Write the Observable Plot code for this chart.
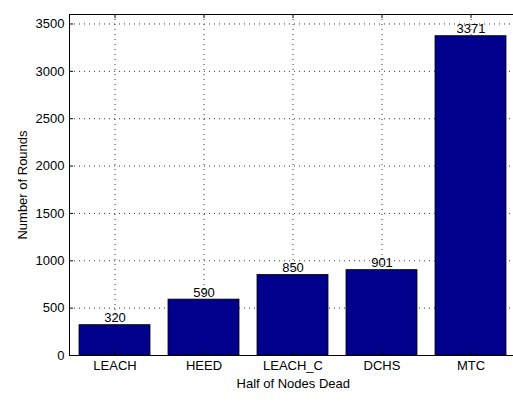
<!DOCTYPE html>
<html>
<head>
<meta charset="utf-8">
<script src="https://cdn.jsdelivr.net/npm/d3@7"></script>
<script src="https://cdn.jsdelivr.net/npm/@observablehq/plot@0.6"></script>
<style>
  html, body { margin: 0; padding: 0; background: #fff; }
  #chart { width: 513px; height: 405px; overflow: hidden; }
</style>
</head>
<body>
<div id="chart"></div>
<script>
// Rounds until half of the nodes are dead, per protocol
const protocols = ["LEACH", "HEED", "LEACH_C", "DCHS", "MTC"];
const rounds = [320, 590, 850, 901, 3371];
const yTicks = [0, 500, 1000, 1500, 2000, 2500, 3000, 3500];
const xTitle = "Half of Nodes Dead";
const yTitle = "Number of Rounds";

const data = protocols.map((p, i) => ({protocol: p, rounds: rounds[i]}));

const W = 513, H = 405;
const mL = 69, mR = -3.5, mT = 14, mB = 50;
const innerW = W - mL - mR;
const innerH = H - mT - mB;
const font = "'Liberation Sans', Arial, Helvetica, sans-serif";
const dotted = {stroke: "#000", strokeOpacity: 0.8, strokeDasharray: "1,4"};

const chart = Plot.plot({
  width: W,
  height: H,
  marginLeft: mL,
  marginRight: mR,
  marginTop: mT,
  marginBottom: mB,
  style: {fontFamily: font, fontSize: "13px", background: "#fff", color: "#000", overflow: "hidden"},
  x: {domain: protocols, paddingInner: 0.2, paddingOuter: 0.1, align: 0.5},
  y: {domain: [0, 3600]},
  marks: [
    Plot.gridY(yTicks.slice(1), dotted),
    Plot.ruleX(protocols, {x: d => d, ...dotted}),
    Plot.barY(data, {x: "protocol", y: "rounds", fill: "#00008C", stroke: "#000", strokeWidth: 0.8}),
    Plot.text(data, {x: "protocol", y: "rounds", text: d => String(d.rounds), lineAnchor: "middle", dy: -7, fontSize: 13, fill: "#000"}),
    Plot.tickY(yTicks, {y: d => d, insetRight: innerW - 4, stroke: "#000"}),
    Plot.tickX(protocols, {x: d => d, insetTop: innerH - 4, stroke: "#000"}),
    Plot.tickX(protocols, {x: d => d, insetBottom: innerH - 4, stroke: "#000"}),
    Plot.axisY({ticks: yTicks, tickSize: 0, tickPadding: 5, tickFormat: d3.format("d"),
      label: yTitle, labelAnchor: "center", labelArrow: "none", labelOffset: 52, fontSize: 13}),
    Plot.axisX({tickSize: 0, tickPadding: 5, label: xTitle, labelAnchor: "center",
      labelArrow: "none", labelOffset: 32, fontSize: 13}),
    Plot.frame({stroke: "#000"})
  ]
});

document.getElementById("chart").appendChild(chart);
</script>
</body>
</html>
